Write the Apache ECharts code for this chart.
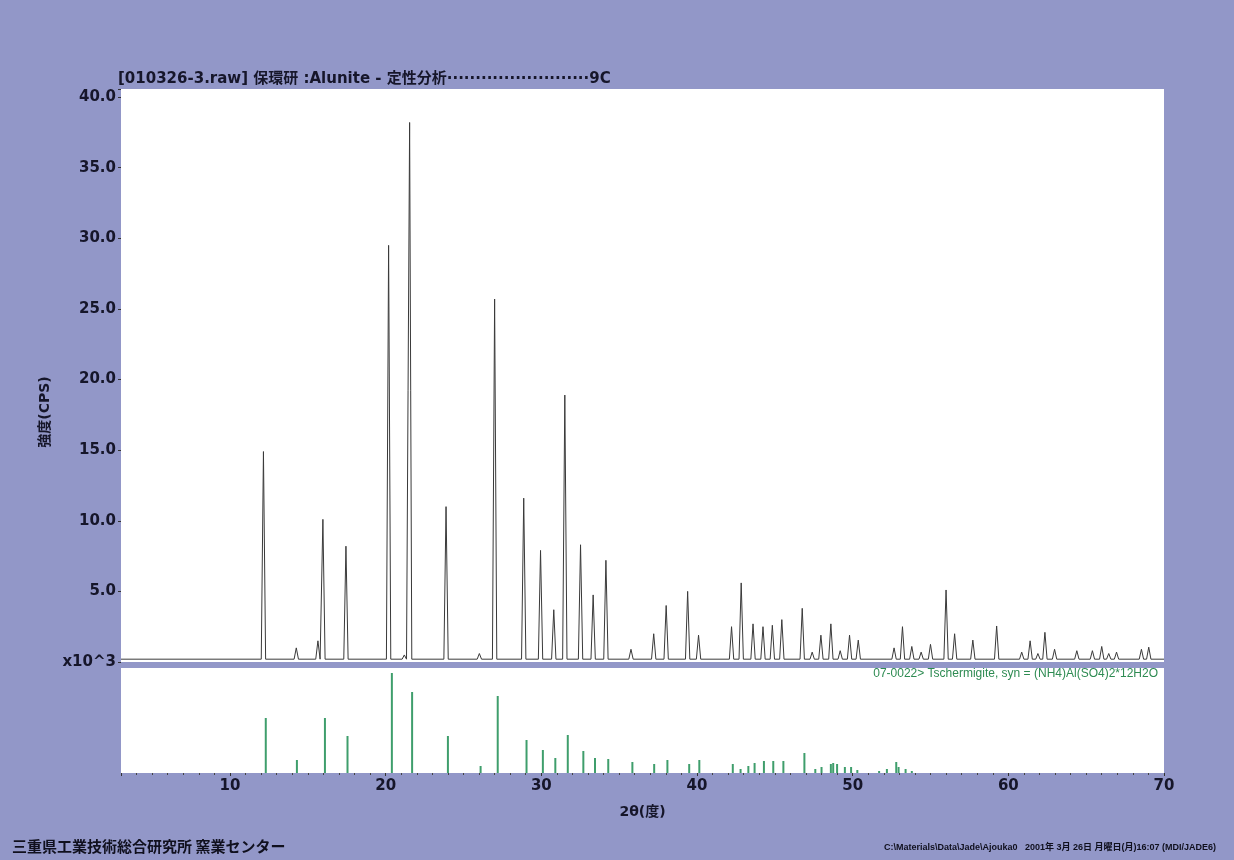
<!DOCTYPE html>
<html>
<head>
<meta charset="utf-8">
<script src="https://cdn.jsdelivr.net/npm/echarts@6/dist/echarts.min.js"></script>
<style>
  html, body { margin: 0; padding: 0; background: #9297c8; }
  #chart { width: 1234px; height: 860px; }
</style>
</head>
<body>
<div id="chart"></div>
<script>
// measured pattern: peak position (2θ, deg) and peak intensity (x10^3 CPS)
const peakPos = [12.15, 14.26, 15.65, 15.97, 17.45, 20.19, 21.2, 21.54, 23.88, 26.02,
  27.0, 28.87, 29.95, 30.8, 31.51, 32.52, 33.33, 34.15, 35.76, 37.22,
  38.02, 39.4, 40.1, 42.22, 42.84, 43.6, 44.24, 44.84, 45.45, 46.76,
  47.4, 47.96, 48.6, 49.2, 49.8, 50.36, 52.66, 53.2, 53.8, 54.4,
  55.0, 56.0, 56.55, 57.72, 59.25, 60.86, 61.4, 61.9, 62.35, 62.97,
  64.4, 65.4, 66.0, 66.45, 66.95, 68.55, 69.02];
const peakHeight = [14.9, 1.0, 1.5, 10.1, 8.2, 29.5, 0.5, 38.2, 11.0, 0.6,
  25.7, 11.6, 7.9, 3.7, 18.9, 8.3, 4.75, 7.2, 0.9, 2.0,
  4.0, 5.0, 1.9, 2.5, 5.6, 2.7, 2.5, 2.6, 3.0, 3.8,
  0.7, 1.9, 2.7, 0.8, 1.9, 1.55, 1.0, 2.5, 1.1, 0.7,
  1.25, 5.1, 2.0, 1.55, 2.55, 0.7, 1.5, 0.6, 2.1, 0.9,
  0.8, 0.8, 1.1, 0.6, 0.7, 0.9, 1.05];
const baseLevel = 0.2;

// reference card 07-0022 sticks: position (2θ) and relative intensity
const stickPos = [12.3, 14.3, 16.1, 17.55, 20.4, 21.7, 24.0, 26.1, 27.2, 29.05,
  30.1, 30.9, 31.7, 32.7, 33.45, 34.3, 35.85, 37.25, 38.1, 39.5,
  40.15, 42.3, 42.8, 43.3, 43.7, 44.3, 44.9, 45.55, 46.9, 47.6,
  48.0, 48.6, 48.75, 49.0, 49.5, 49.9, 50.3, 51.7, 52.2, 52.8,
  52.95, 53.4, 53.8];
const stickHeight = [55, 13, 55, 37, 100, 81, 37, 7, 77, 33,
  23, 15, 38, 22, 15, 14, 11, 9, 13, 9,
  13, 9, 4, 7, 10, 12, 12, 12, 20, 4,
  6, 9, 10, 9, 6, 6, 3, 2, 4, 11,
  6, 4, 2];

const title = '[010326-3.raw] 保環研 :Alunite - 定性分析·························9C';
const yName = '強度(CPS)';
const cardLabel = '07-0022> Tschermigite, syn = (NH4)Al(SO4)2*12H2O';
const footLeft = '三重県工業技術総合研究所 窯業センター';
const footRight = 'C:\\Materials\\Data\\Jade\\Ajouka0   2001年 3月 26日 月曜日(月)16:07 (MDI/JADE6)';

const halfWidth = 0.14;
const trace = [[3, baseLevel]];
peakPos.forEach((p, i) => {
  trace.push([p - halfWidth, baseLevel], [p, peakHeight[i]], [p + halfWidth, baseLevel]);
});
trace.push([70, baseLevel]);

const sticks = stickPos.map((p, i) => [p, stickHeight[i]]);

const latin = "'DejaVu Sans', 'Noto Sans CJK JP', sans-serif";
const ink = '#16162a';

const chart = echarts.init(document.getElementById('chart'));
chart.setOption({
  backgroundColor: '#9297c8',
  animation: false,
  graphic: [
    {
      type: 'text', left: 118, top: 72,
      style: { text: title, fill: ink, font: "bold 15px 'DejaVu Sans', 'Noto Sans CJK JP', sans-serif" }
    },
    {
      type: 'text', x: 45, y: 412, rotation: Math.PI / 2,
      style: { text: yName, fill: ink, align: 'center', verticalAlign: 'middle',
        font: "bold 14px 'DejaVu Sans', 'Noto Sans CJK JP', sans-serif" }
    },
    {
      type: 'text', right: 76, top: 668, z: 10,
      style: { text: cardLabel, fill: '#2e8b52', font: "12px 'Liberation Sans', sans-serif" }
    },
    {
      type: 'text', left: 12, top: 839,
      style: { text: footLeft, fill: '#10101e', font: "bold 15px 'Noto Sans CJK JP', sans-serif" }
    },
    {
      type: 'text', right: 18, top: 843,
      style: { text: footRight, fill: '#10101e', font: "bold 9px 'Liberation Sans', 'Noto Sans CJK JP', sans-serif" }
    }
  ],
  grid: [
    { left: 121, right: 70, top: 89, bottom: 198, show: true, backgroundColor: '#ffffff', borderWidth: 0 },
    { left: 121, right: 70, top: 668, bottom: 87, show: true, backgroundColor: '#ffffff', borderWidth: 0 }
  ],
  xAxis: [
    {
      type: 'value', gridIndex: 0, min: 3, max: 70,
      axisLine: { show: false }, axisTick: { show: false },
      axisLabel: { show: false }, splitLine: { show: false }
    },
    {
      type: 'value', gridIndex: 1, min: 3, max: 70, splitNumber: 7,
      name: '2θ(度)', nameLocation: 'middle', nameGap: 32,
      nameTextStyle: { color: ink, fontSize: 14, fontWeight: 'bold', fontFamily: latin },
      axisLine: { show: false },
      axisTick: { show: true, length: 3, lineStyle: { color: '#333' } },
      minorTick: { show: true, splitNumber: 10, length: 2, lineStyle: { color: '#444' } },
      axisLabel: {
        color: ink, fontSize: 15, fontWeight: 'bold', fontFamily: latin, margin: 6,
        formatter: v => (v % 10 === 0 ? String(v) : '')
      },
      splitLine: { show: false }
    }
  ],
  yAxis: [
    {
      type: 'value', gridIndex: 0, min: 0, max: 40.57, interval: 5,
      axisLine: { show: false },
      axisTick: { show: true, length: 3, lineStyle: { color: '#333' } },
      axisLabel: {
        color: ink, fontSize: 15, fontWeight: 'bold', fontFamily: latin, margin: 5,
        formatter: v => (v === 0 ? 'x10^3' : (v % 5 === 0 ? v.toFixed(1) : ''))
      },
      splitLine: { show: false }
    },
    {
      type: 'value', gridIndex: 1, min: 0, max: 105, show: false
    }
  ],
  series: [
    {
      type: 'line', xAxisIndex: 0, yAxisIndex: 0, data: trace,
      symbol: 'none', lineStyle: { color: '#3a3a3a', width: 1 }
    },
    {
      type: 'bar', xAxisIndex: 1, yAxisIndex: 1, data: sticks,
      barWidth: 2, itemStyle: { color: '#3f9e6c' }
    }
  ]
});
</script>
</body>
</html>
